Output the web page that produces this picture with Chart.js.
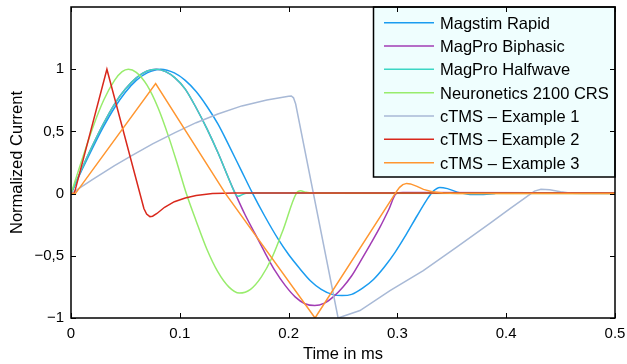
<!DOCTYPE html>
<html>
<head>
<meta charset="utf-8">
<script src="https://cdn.jsdelivr.net/npm/chart.js@4.4.1/dist/chart.umd.min.js"></script>
<style>
  html, body { margin: 0; padding: 0; background: #fff; }
  #wrap { width: 627px; height: 364px; }
</style>
</head>
<body>
<div id="wrap"><canvas id="pulseChart" width="627" height="364"></canvas></div>
<script>
// Tick values and their labels
const xTicks = [0, 0.1, 0.2, 0.3, 0.4, 0.5];
const xTickLabels = ['0', '0.1', '0.2', '0.3', '0.4', '0.5'];
const yTicks = [-1, -0.5, 0, 0.5, 1];
const yTickLabels = ['\u22121', '\u22120,5', '0', '0,5', '1'];

const seriesNames = [
  'Magstim Rapid',
  'MagPro Biphasic',
  'MagPro Halfwave',
  'Neuronetics 2100 CRS',
  'cTMS \u2013 Example 1',
  'cTMS \u2013 Example 2',
  'cTMS \u2013 Example 3'
];
const seriesColors = ['#1a9cf0', '#a23cb4', '#3cd6c4', '#98ec6c', '#a8b9d6', '#d9281c', '#ff9630'];

// time in ms / normalized current
const magstimT = [0, 0.01, 0.02, 0.03, 0.04, 0.05, 0.06, 0.07, 0.0825, 0.095, 0.105, 0.115, 0.125, 0.135, 0.145, 0.156, 0.167, 0.178, 0.19, 0.2, 0.21, 0.22, 0.23, 0.24, 0.249, 0.258, 0.268, 0.278, 0.288, 0.298, 0.308, 0.318, 0.327, 0.333, 0.339, 0.346, 0.355, 0.365, 0.375, 0.39];
const magstimI = [0, 0.19, 0.37, 0.54, 0.69, 0.815, 0.91, 0.97, 1.0, 0.97, 0.91, 0.82, 0.70, 0.56, 0.39, 0.195, 0.0, -0.18, -0.36, -0.49, -0.60, -0.70, -0.77, -0.81, -0.82, -0.81, -0.76, -0.69, -0.59, -0.47, -0.33, -0.18, -0.05, 0.02, 0.05, 0.04, 0.012, -0.005, -0.008, 0];

const biphasicT = [0, 0.01, 0.02, 0.03, 0.04, 0.05, 0.06, 0.07, 0.0785, 0.087, 0.0956, 0.105, 0.115, 0.125, 0.135, 0.145, 0.151, 0.16, 0.169, 0.178, 0.1875, 0.197, 0.206, 0.215, 0.224, 0.233, 0.241, 0.25, 0.258, 0.2656, 0.275, 0.284, 0.292, 0.299, 0.305, 0.5];
const biphasicI = [0, 0.2, 0.39, 0.565, 0.72, 0.84, 0.93, 0.985, 1.0, 0.98, 0.93, 0.84, 0.69, 0.52, 0.33, 0.12, 0.0, -0.17, -0.32, -0.47, -0.62, -0.74, -0.83, -0.885, -0.9, -0.88, -0.83, -0.75, -0.66, -0.55, -0.41, -0.27, -0.13, 0.0, 0.008, 0.005];

const halfwaveT = [0, 0.01, 0.02, 0.03, 0.04, 0.05, 0.06, 0.07, 0.0785, 0.087, 0.0956, 0.105, 0.115, 0.125, 0.135, 0.145, 0.151, 0.1535, 0.157, 0.161, 0.17, 0.5];
const halfwaveI = [0, 0.2, 0.39, 0.565, 0.72, 0.84, 0.93, 0.985, 1.0, 0.98, 0.93, 0.84, 0.69, 0.52, 0.33, 0.12, 0.0, -0.022, -0.01, 0.002, 0.004, 0.004];

const neuroT = [0, 0.01, 0.02, 0.03, 0.04, 0.047, 0.0527, 0.06, 0.07, 0.08, 0.09, 0.098, 0.106, 0.115, 0.125, 0.135, 0.145, 0.1547, 0.165, 0.175, 0.185, 0.195, 0.207, 0.211, 0.216, 0.225, 0.5];
const neuroI = [0, 0.27, 0.53, 0.75, 0.91, 0.98, 1.0, 0.975, 0.87, 0.69, 0.45, 0.23, 0.0, -0.22, -0.45, -0.63, -0.75, -0.80, -0.77, -0.67, -0.51, -0.29, 0.0, 0.022, 0.01, 0.002, 0];

const ex1T = [0, 0.02, 0.04, 0.0558, 0.075, 0.0956, 0.115, 0.135, 0.157, 0.18, 0.2, 0.2025, 0.2045, 0.2065, 0.2455, 0.2656, 0.2932, 0.3238, 0.3545, 0.385, 0.4035, 0.418, 0.426, 0.432, 0.44, 0.45, 0.46, 0.47, 0.5];
const ex1I = [0, 0.115, 0.225, 0.305, 0.40, 0.49, 0.57, 0.64, 0.705, 0.752, 0.782, 0.785, 0.77, 0.72, -1.0, -0.94, -0.78, -0.62, -0.43, -0.24, -0.12, -0.03, 0.02, 0.035, 0.03, 0.015, 0.003, 0, 0];

const ex2T = [0, 0.003, 0.033, 0.067, 0.0695, 0.0725, 0.075, 0.079, 0.086, 0.095, 0.105, 0.115, 0.13, 0.15, 0.5];
const ex2I = [0, 0, 1.0, -0.12, -0.165, -0.185, -0.182, -0.16, -0.11, -0.065, -0.035, -0.015, 0.0, 0.005, 0.005];

const ex3T = [0, 0.004, 0.0778, 0.142, 0.2243, 0.2994, 0.302, 0.305, 0.3085, 0.312, 0.318, 0.324, 0.332, 0.342, 0.355, 0.5];
const ex3I = [0, 0, 0.885, 0, -1.0, 0.02, 0.05, 0.072, 0.082, 0.078, 0.058, 0.034, 0.015, 0.005, 0, 0];

const seriesT = [magstimT, biphasicT, halfwaveT, neuroT, ex1T, ex2T, ex3T];
const seriesI = [magstimI, biphasicI, halfwaveI, neuroI, ex1I, ex2I, ex3I];
const smoothSeries = [true, true, true, true, false, false, false];

const FONT = "'Liberation Sans', Arial, Helvetica, sans-serif";
Chart.defaults.font.family = FONT;
Chart.defaults.font.size = 15;
Chart.defaults.color = '#000';

function toPoints(t, v) {
  return t.map((x, i) => ({ x: x, y: v[i] }));
}

const datasets = seriesNames.map((name, i) => ({
  label: name,
  data: toPoints(seriesT[i], seriesI[i]),
  borderColor: seriesColors[i],
  backgroundColor: seriesColors[i],
  borderWidth: 1.5,
  pointRadius: 0,
  fill: false,
  tension: 0,
  cubicInterpolationMode: smoothSeries[i] ? 'monotone' : 'default',
  order: seriesNames.length - i   // last series on top, like the original
}));

// box around the plot, inward ticks, axis titles
const matlabAxes = {
  id: 'matlabAxes',
  afterDraw(chart) {
    const { ctx, chartArea: a, scales } = chart;
    ctx.save();
    ctx.strokeStyle = '#000';
    ctx.lineWidth = 1.5;
    ctx.strokeRect(a.left, a.top, a.right - a.left, a.bottom - a.top);
    ctx.lineWidth = 1;
    ctx.beginPath();
    xTicks.forEach(v => {
      const px = Math.round(scales.x.getPixelForValue(v)) + 0.5;
      ctx.moveTo(px, a.bottom); ctx.lineTo(px, a.bottom - 5);
      ctx.moveTo(px, a.top); ctx.lineTo(px, a.top + 5);
    });
    yTicks.forEach(v => {
      const py = Math.round(scales.y.getPixelForValue(v)) + 0.5;
      ctx.moveTo(a.left, py); ctx.lineTo(a.left + 5, py);
      ctx.moveTo(a.right, py); ctx.lineTo(a.right - 5, py);
    });
    ctx.stroke();

    ctx.fillStyle = '#000';
    ctx.font = '16.5px ' + FONT;
    ctx.textAlign = 'center';
    ctx.textBaseline = 'alphabetic';
    ctx.fillText('Time in ms', (a.left + a.right) / 2, 359);
    ctx.translate(21.5, (a.top + a.bottom) / 2);
    ctx.rotate(-Math.PI / 2);
    ctx.fillText('Normalized Current', 0, 0);
    ctx.restore();
  }
};

// legend box in the upper right corner
const boxLegend = {
  id: 'boxLegend',
  afterDatasetsDraw(chart) {
    const { ctx, chartArea: a } = chart;
    const left = 373.5, top = a.top, right = a.right, bottom = 177;
    ctx.save();
    ctx.fillStyle = '#effefe';
    ctx.fillRect(left, top, right - left, bottom - top);
    ctx.strokeStyle = '#000';
    ctx.lineWidth = 1.5;
    ctx.strokeRect(left, top, right - left, bottom - top);
    ctx.font = '16.5px ' + FONT;
    ctx.textAlign = 'left';
    ctx.textBaseline = 'alphabetic';
    seriesNames.forEach((name, i) => {
      const mid = 22.7 + i * 23.33;
      ctx.strokeStyle = seriesColors[i];
      ctx.lineWidth = 1.5;
      ctx.beginPath();
      ctx.moveTo(384, mid);
      ctx.lineTo(434, mid);
      ctx.stroke();
      ctx.fillStyle = '#000';
      ctx.fillText(name, 440, mid + 6);
    });
    ctx.restore();
  }
};

new Chart(document.getElementById('pulseChart'), {
  type: 'line',
  data: { datasets: datasets },
  options: {
    responsive: false,
    animation: false,
    devicePixelRatio: 1,
    layout: { padding: { top: 7, right: 12, left: 0, bottom: 0 } },
    plugins: { legend: { display: false }, tooltip: { enabled: false } },
    scales: {
      x: {
        type: 'linear',
        min: 0,
        max: 0.5,
        grid: { display: false, drawTicks: false },
        border: { display: false },
        afterBuildTicks: s => { s.ticks = xTicks.map(v => ({ value: v })); },
        afterFit: s => { s.height = 46; s.paddingLeft = 0; s.paddingRight = 0; },
        ticks: {
          padding: 7,
          maxRotation: 0,
          callback: (v, i) => xTickLabels[i]
        }
      },
      y: {
        type: 'linear',
        min: -1,
        max: 1.5,
        grid: { display: false, drawTicks: false },
        border: { display: false },
        afterBuildTicks: s => { s.ticks = yTicks.map(v => ({ value: v })); },
        afterFit: s => { s.width = 71; s.paddingTop = 0; s.paddingBottom = 0; },
        ticks: {
          padding: 7,
          callback: (v, i) => yTickLabels[i]
        }
      }
    }
  },
  plugins: [boxLegend, matlabAxes]
});
</script>
</body>
</html>
